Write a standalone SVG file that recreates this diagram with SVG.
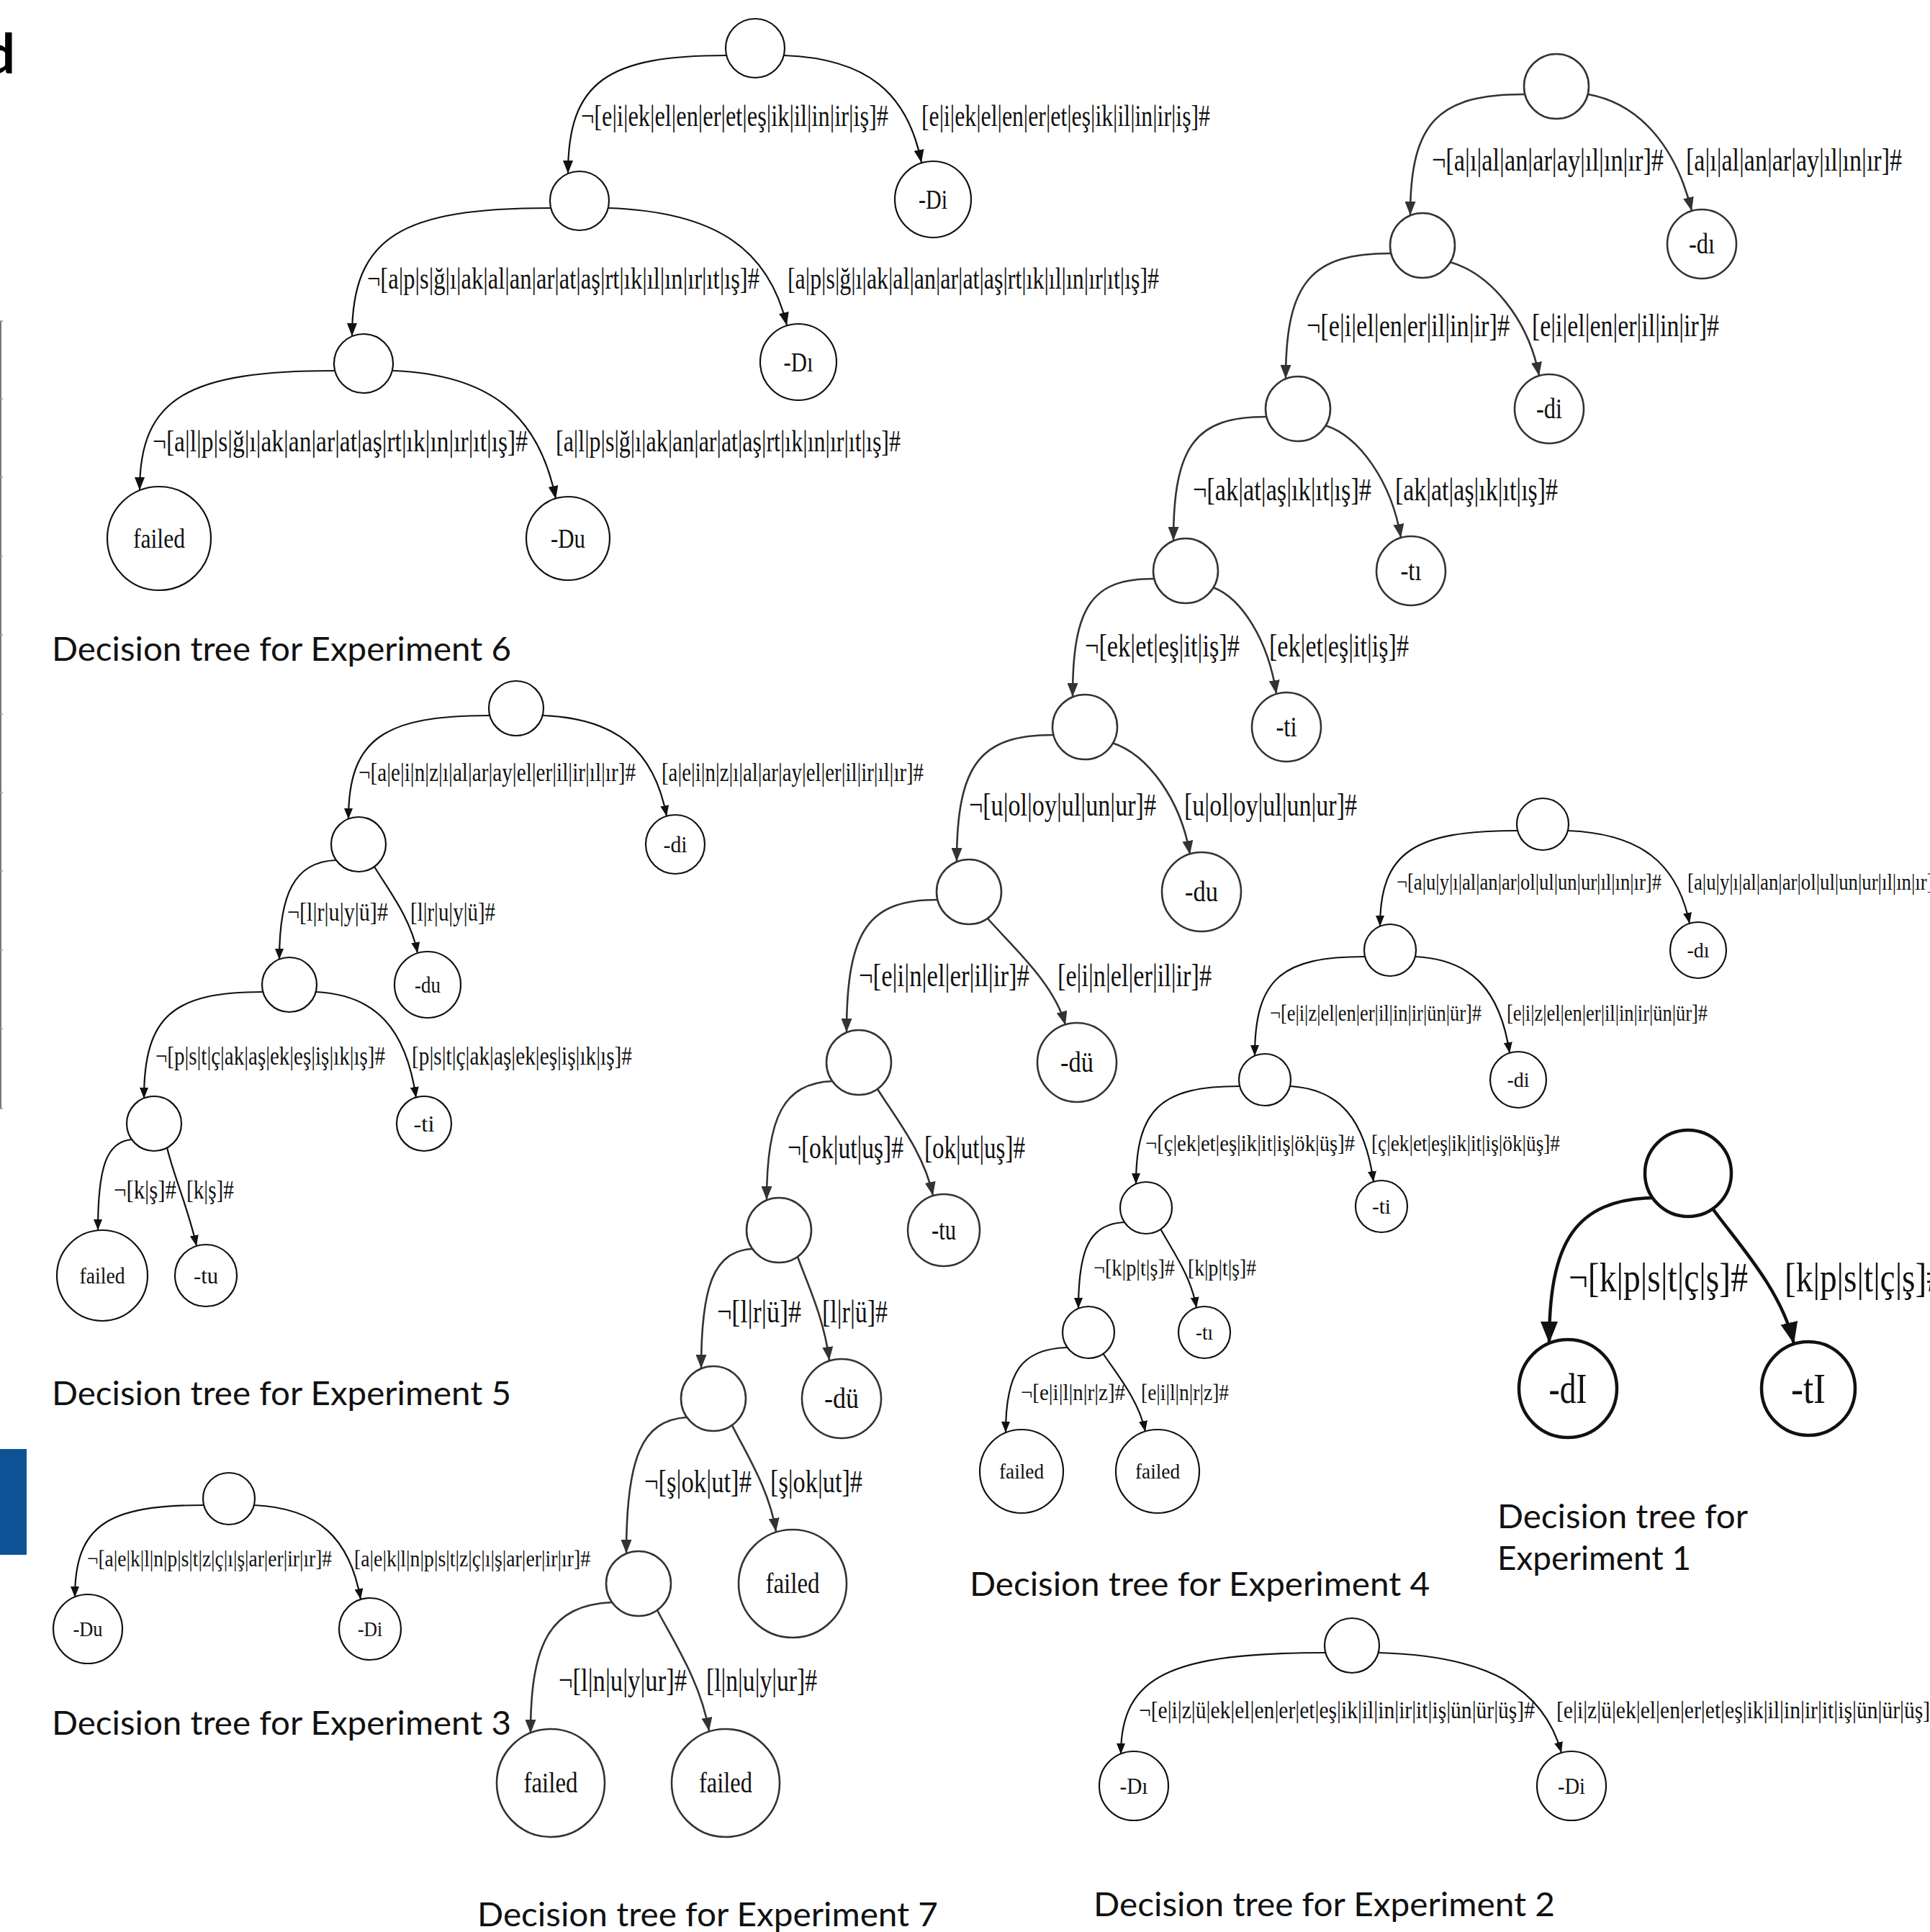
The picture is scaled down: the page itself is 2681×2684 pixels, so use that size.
<svg xmlns="http://www.w3.org/2000/svg" width="2681" height="2684" viewBox="0 0 2681 2684">
<style>
.n{fill:#fff;stroke:#111;stroke-width:2.2}
.n7{fill:#fff;stroke:#333;stroke-width:2.6}
.n1{fill:#fff;stroke:#111;stroke-width:4.5}
.e{fill:none;stroke:#111;stroke-width:2.2}
.e7{fill:none;stroke:#333;stroke-width:2.6}
.e1{fill:none;stroke:#111;stroke-width:4.5}
.t{font-family:"Liberation Serif","Times New Roman",serif;fill:#111}
.c{font-family:Lato,"Open Sans",sans-serif;fill:#111;font-size:46px}
.f6{font-size:42px}.f5{font-size:36px}.f3{font-size:32px}.f7{font-size:44px}.f4{font-size:32px}.f2{font-size:34px}.f1{font-size:56px}
.m6{font-size:38px}.m5{font-size:32px}.m3{font-size:30px}.m7{font-size:40px}.m4{font-size:30px}.m2{font-size:32px}.m1{font-size:60px}
.mid{text-anchor:middle}
</style>
<defs>
<marker id="ahM" viewBox="0 0 10 10" refX="10" refY="5" markerWidth="18" markerHeight="14" markerUnits="userSpaceOnUse" orient="auto" preserveAspectRatio="none"><path d="M0,0 L10,5 L0,10 z" fill="#111"/></marker>
<marker id="ahG" viewBox="0 0 10 10" refX="10" refY="5" markerWidth="19" markerHeight="15" markerUnits="userSpaceOnUse" orient="auto" preserveAspectRatio="none"><path d="M0,0 L10,5 L0,10 z" fill="#333"/></marker>
<marker id="ahS" viewBox="0 0 10 10" refX="10" refY="5" markerWidth="15" markerHeight="12" markerUnits="userSpaceOnUse" orient="auto" preserveAspectRatio="none"><path d="M0,0 L10,5 L0,10 z" fill="#111"/></marker>
<marker id="ahL" viewBox="0 0 10 10" refX="10" refY="5" markerWidth="30" markerHeight="24" markerUnits="userSpaceOnUse" orient="auto" preserveAspectRatio="none"><path d="M0,0 L10,5 L0,10 z" fill="#111"/></marker>
</defs>
<rect x="0" y="0" width="2681" height="2684" fill="#fff"/>

<g id="decor">
<text x="-22" y="102" font-family="Lato, sans-serif" font-weight="bold" font-size="76" fill="#000">d</text>
<line x1="1" y1="446" x2="1" y2="1540" stroke="#777" stroke-width="2"/>
<path d="M0,446h4M0,554h4M0,663h4M0,773h4M0,882h4M0,992h4M0,1101h4M0,1210h4M0,1320h4M0,1429h4M0,1540h4" stroke="#999" stroke-width="1.5"/>
<rect x="0" y="2013" width="37" height="147" fill="#0e5296"/>
</g>

<g id="connectors">
<!-- Exp 6 -->
<g marker-end="url(#ahM)">
<path class="e" d="M1009,77 C844,77 789,113 789,241"/>
<path class="e" d="M1089,77 C1204,81 1261,129 1280,226"/>
<path class="e" d="M765,289 C558,289 489,328 489,467"/>
<path class="e" d="M845,289 C994,294 1068,346 1093,452"/>
<path class="e" d="M465,515 C262,515 194,552 194,681"/>
<path class="e" d="M545,515 C681,520 749,577 772,693"/>
</g>
<!-- Exp 5 -->
<g marker-end="url(#ahS)">
<path class="e" d="M680,994 C533,994 484,1026 484,1138"/>
<path class="e" d="M754,994 C857,998 909,1043 926,1134"/>
<path class="e" d="M467,1195 C408,1197 388,1243 388,1333"/>
<path class="e" d="M520,1204 C538,1234 571,1276 580,1324"/>
<path class="e" d="M365,1378 C241,1378 200,1411 200,1526"/>
<path class="e" d="M439,1378 C522,1382 564,1429 578,1525"/>
<path class="e" d="M183,1583 C148,1586 136,1621 136,1709"/>
<path class="e" d="M232,1594 C240,1630 262,1680 273,1731"/>
</g>
<!-- Exp 3 -->
<g marker-end="url(#ahS)">
<path class="e" d="M283,2091 C149,2091 104,2119 104,2219"/>
<path class="e" d="M353,2091 C442,2095 486,2137 501,2222"/>
</g>
<!-- Exp 7 -->
<g marker-end="url(#ahG)">
<path class="e7" d="M2118,131 C1999,131 1959,168 1959,299"/>
<path class="e7" d="M2206,131 C2278,144 2328,204 2350,293"/>
<path class="e7" d="M1932,352 C1823,352 1786,390 1786,526"/>
<path class="e7" d="M2014,364 C2070,380 2123,443 2138,522"/>
<path class="e7" d="M1759,579 C1662,579 1630,617 1630,751"/>
<path class="e7" d="M1841,591 C1888,606 1933,669 1946,747"/>
<path class="e7" d="M1603,804 C1518,804 1490,840 1490,968"/>
<path class="e7" d="M1685,816 C1725,831 1762,890 1773,964"/>
<path class="e7" d="M1463,1021 C1363,1021 1329,1060 1329,1197"/>
<path class="e7" d="M1545,1032 C1594,1048 1640,1110 1653,1187"/>
<path class="e7" d="M1302,1250 C1208,1250 1176,1290 1176,1434"/>
<path class="e7" d="M1372,1276 C1404,1313 1464,1365 1480,1424"/>
<path class="e7" d="M1156,1502 C1088,1505 1065,1552 1065,1667"/>
<path class="e7" d="M1219,1513 C1242,1550 1284,1602 1296,1661"/>
<path class="e7" d="M1045,1735 C992,1738 974,1785 974,1901"/>
<path class="e7" d="M1108,1746 C1121,1782 1145,1832 1152,1890"/>
<path class="e7" d="M954,1969 C891,1973 870,2026 870,2158"/>
<path class="e7" d="M1017,1980 C1035,2017 1069,2069 1078,2128"/>
<path class="e7" d="M850,2226 C765,2230 737,2281 737,2408"/>
<path class="e7" d="M913,2237 C935,2279 974,2338 985,2405"/>
</g>
<!-- Exp 4 -->
<g marker-end="url(#ahS)">
<path class="e" d="M2108,1154 C1965,1154 1917,1183 1917,1287"/>
<path class="e" d="M2178,1154 C2279,1158 2330,1199 2347,1283"/>
<path class="e" d="M1896,1329 C1781,1329 1743,1359 1743,1467"/>
<path class="e" d="M1966,1329 C2045,1333 2084,1376 2097,1463"/>
<path class="e" d="M1722,1509 C1614,1509 1578,1539 1578,1645"/>
<path class="e" d="M1792,1509 C1862,1513 1896,1556 1908,1642"/>
<path class="e" d="M1562,1698 C1514,1700 1498,1734 1498,1818"/>
<path class="e" d="M1612,1707 C1627,1735 1655,1773 1662,1817"/>
<path class="e" d="M1482,1872 C1418,1874 1397,1907 1397,1990"/>
<path class="e" d="M1532,1880 C1550,1907 1582,1945 1591,1989"/>
</g>
<!-- Exp 1 -->
<g marker-end="url(#ahL)">
<path class="e1" d="M2296,1664 C2188,1667 2152,1725 2152,1866"/>
<path class="e1" d="M2379,1679 C2413,1726 2475,1792 2492,1867"/>
</g>
<!-- Exp 2 -->
<g marker-end="url(#ahS)">
<path class="e" d="M1841,2296 C1628,2296 1557,2327 1557,2437"/>
<path class="e" d="M1915,2296 C2067,2300 2144,2345 2169,2435"/>
</g>

<!-- edge labels -->
<g class="t">
<text class="f6" x="807" y="175" textLength="427" lengthAdjust="spacingAndGlyphs">¬[e|i|ek|el|en|er|et|eş|ik|il|in|ir|iş]#</text>
<text class="f6" x="1280" y="175" textLength="401" lengthAdjust="spacingAndGlyphs">[e|i|ek|el|en|er|et|eş|ik|il|in|ir|iş]#</text>
<text class="f6" x="510" y="401" textLength="545" lengthAdjust="spacingAndGlyphs">¬[a|p|s|ğ|ı|ak|al|an|ar|at|aş|rt|ık|ıl|ın|ır|ıt|ış]#</text>
<text class="f6" x="1094" y="401" textLength="516" lengthAdjust="spacingAndGlyphs">[a|p|s|ğ|ı|ak|al|an|ar|at|aş|rt|ık|ıl|ın|ır|ıt|ış]#</text>
<text class="f6" x="212" y="627" textLength="521" lengthAdjust="spacingAndGlyphs">¬[a|l|p|s|ğ|ı|ak|an|ar|at|aş|rt|ık|ın|ır|ıt|ış]#</text>
<text class="f6" x="772" y="627" textLength="479" lengthAdjust="spacingAndGlyphs">[a|l|p|s|ğ|ı|ak|an|ar|at|aş|rt|ık|ın|ır|ıt|ış]#</text>

<text class="f5" x="498" y="1085" textLength="385" lengthAdjust="spacingAndGlyphs">¬[a|e|i|n|z|ı|al|ar|ay|el|er|il|ir|ıl|ır]#</text>
<text class="f5" x="919" y="1085" textLength="364" lengthAdjust="spacingAndGlyphs">[a|e|i|n|z|ı|al|ar|ay|el|er|il|ir|ıl|ır]#</text>
<text class="f5" x="399" y="1279" textLength="140" lengthAdjust="spacingAndGlyphs">¬[l|r|u|y|ü]#</text>
<text class="f5" x="570" y="1279" textLength="118" lengthAdjust="spacingAndGlyphs">[l|r|u|y|ü]#</text>
<text class="f5" x="216" y="1479" textLength="319" lengthAdjust="spacingAndGlyphs">¬[p|s|t|ç|ak|aş|ek|eş|iş|ık|ış]#</text>
<text class="f5" x="572" y="1479" textLength="306" lengthAdjust="spacingAndGlyphs">[p|s|t|ç|ak|aş|ek|eş|iş|ık|ış]#</text>
<text class="f5" x="158" y="1665" textLength="87" lengthAdjust="spacingAndGlyphs">¬[k|ş]#</text>
<text class="f5" x="259" y="1665" textLength="66" lengthAdjust="spacingAndGlyphs">[k|ş]#</text>

<text class="f3" x="121" y="2176" textLength="340" lengthAdjust="spacingAndGlyphs">¬[a|e|k|l|n|p|s|t|z|ç|ı|ş|ar|er|ir|ır]#</text>
<text class="f3" x="492" y="2176" textLength="328" lengthAdjust="spacingAndGlyphs">[a|e|k|l|n|p|s|t|z|ç|ı|ş|ar|er|ir|ır]#</text>

<text class="f7" x="1989" y="237" textLength="322" lengthAdjust="spacingAndGlyphs">¬[a|ı|al|an|ar|ay|ıl|ın|ır]#</text>
<text class="f7" x="2342" y="237" textLength="300" lengthAdjust="spacingAndGlyphs">[a|ı|al|an|ar|ay|ıl|ın|ır]#</text>
<text class="f7" x="1815" y="467" textLength="282" lengthAdjust="spacingAndGlyphs">¬[e|i|el|en|er|il|in|ir]#</text>
<text class="f7" x="2128" y="467" textLength="260" lengthAdjust="spacingAndGlyphs">[e|i|el|en|er|il|in|ir]#</text>
<text class="f7" x="1657" y="695" textLength="248" lengthAdjust="spacingAndGlyphs">¬[ak|at|aş|ık|ıt|ış]#</text>
<text class="f7" x="1938" y="695" textLength="226" lengthAdjust="spacingAndGlyphs">[ak|at|aş|ık|ıt|ış]#</text>
<text class="f7" x="1507" y="912" textLength="215" lengthAdjust="spacingAndGlyphs">¬[ek|et|eş|it|iş]#</text>
<text class="f7" x="1763" y="912" textLength="194" lengthAdjust="spacingAndGlyphs">[ek|et|eş|it|iş]#</text>
<text class="f7" x="1346" y="1133" textLength="260" lengthAdjust="spacingAndGlyphs">¬[u|ol|oy|ul|un|ur]#</text>
<text class="f7" x="1645" y="1133" textLength="240" lengthAdjust="spacingAndGlyphs">[u|ol|oy|ul|un|ur]#</text>
<text class="f7" x="1193" y="1370" textLength="237" lengthAdjust="spacingAndGlyphs">¬[e|i|n|el|er|il|ir]#</text>
<text class="f7" x="1469" y="1370" textLength="214" lengthAdjust="spacingAndGlyphs">[e|i|n|el|er|il|ir]#</text>
<text class="f7" x="1094" y="1609" textLength="161" lengthAdjust="spacingAndGlyphs">¬[ok|ut|uş]#</text>
<text class="f7" x="1284" y="1609" textLength="140" lengthAdjust="spacingAndGlyphs">[ok|ut|uş]#</text>
<text class="f7" x="996" y="1837" textLength="117" lengthAdjust="spacingAndGlyphs">¬[l|r|ü]#</text>
<text class="f7" x="1142" y="1837" textLength="91" lengthAdjust="spacingAndGlyphs">[l|r|ü]#</text>
<text class="f7" x="895" y="2073" textLength="149" lengthAdjust="spacingAndGlyphs">¬[ş|ok|ut]#</text>
<text class="f7" x="1070" y="2073" textLength="128" lengthAdjust="spacingAndGlyphs">[ş|ok|ut]#</text>
<text class="f7" x="776" y="2349" textLength="178" lengthAdjust="spacingAndGlyphs">¬[l|n|u|y|ur]#</text>
<text class="f7" x="981" y="2349" textLength="154" lengthAdjust="spacingAndGlyphs">[l|n|u|y|ur]#</text>

<text class="f4" x="1940" y="1236" textLength="368" lengthAdjust="spacingAndGlyphs">¬[a|u|y|ı|al|an|ar|ol|ul|un|ur|ıl|ın|ır]#</text>
<text class="f4" x="2344" y="1236" textLength="355" lengthAdjust="spacingAndGlyphs">[a|u|y|ı|al|an|ar|ol|ul|un|ur|ıl|ın|ır]#</text>
<text class="f4" x="1764" y="1418" textLength="294" lengthAdjust="spacingAndGlyphs">¬[e|i|z|el|en|er|il|in|ir|ün|ür]#</text>
<text class="f4" x="2093" y="1418" textLength="279" lengthAdjust="spacingAndGlyphs">[e|i|z|el|en|er|il|in|ir|ün|ür]#</text>
<text class="f4" x="1591" y="1599" textLength="291" lengthAdjust="spacingAndGlyphs">¬[ç|ek|et|eş|ik|it|iş|ök|üş]#</text>
<text class="f4" x="1905" y="1599" textLength="262" lengthAdjust="spacingAndGlyphs">[ç|ek|et|eş|ik|it|iş|ök|üş]#</text>
<text class="f4" x="1519" y="1772" textLength="113" lengthAdjust="spacingAndGlyphs">¬[k|p|t|ş]#</text>
<text class="f4" x="1650" y="1772" textLength="95" lengthAdjust="spacingAndGlyphs">[k|p|t|ş]#</text>
<text class="f4" x="1418" y="1945" textLength="145" lengthAdjust="spacingAndGlyphs">¬[e|i|l|n|r|z]#</text>
<text class="f4" x="1585" y="1945" textLength="122" lengthAdjust="spacingAndGlyphs">[e|i|l|n|r|z]#</text>

<text class="f1" x="2179" y="1794" textLength="249" lengthAdjust="spacingAndGlyphs">¬[k|p|s|t|ç|ş]#</text>
<text class="f1" x="2479" y="1794" textLength="221" lengthAdjust="spacingAndGlyphs">[k|p|s|t|ç|ş]#</text>

<text class="f2" x="1582" y="2387" textLength="550" lengthAdjust="spacingAndGlyphs">¬[e|i|z|ü|ek|el|en|er|et|eş|ik|il|in|ir|it|iş|ün|ür|üş]#</text>
<text class="f2" x="2162" y="2387" textLength="534" lengthAdjust="spacingAndGlyphs">[e|i|z|ü|ek|el|en|er|et|eş|ik|il|in|ir|it|iş|ün|ür|üş]#</text>
</g>
</g>

<g id="exp6">
<g id="e6-root"><circle class="n" cx="1049" cy="67" r="41"/></g>
<g id="e6-n1"><circle class="n" cx="805" cy="279" r="41"/></g>
<g id="e6-Di"><circle class="n" cx="1296" cy="277" r="53"/><text class="t m6 mid" x="1296" y="290" textLength="40" lengthAdjust="spacingAndGlyphs">-Di</text></g>
<g id="e6-n2"><circle class="n" cx="505" cy="505" r="41"/></g>
<g id="e6-Dı"><circle class="n" cx="1109" cy="503" r="53"/><text class="t m6 mid" x="1109" y="516" textLength="41" lengthAdjust="spacingAndGlyphs">-Dı</text></g>
<g id="e6-failed"><circle class="n" cx="221" cy="748" r="72"/><text class="t m6 mid" x="221" y="761" textLength="72" lengthAdjust="spacingAndGlyphs">failed</text></g>
<g id="e6-Du"><circle class="n" cx="789" cy="748" r="58"/><text class="t m6 mid" x="789" y="761" textLength="48" lengthAdjust="spacingAndGlyphs">-Du</text></g>
<text class="c" x="72" y="918" textLength="638" lengthAdjust="spacingAndGlyphs">Decision tree for Experiment 6</text>
</g>

<g id="exp5">
<g id="e5-root"><circle class="n" cx="717" cy="984" r="38"/></g>
<g id="e5-n1"><circle class="n" cx="498" cy="1173" r="38"/></g>
<g id="e5-di"><circle class="n" cx="938" cy="1173" r="41"/><text class="t m5 mid" x="938" y="1184" textLength="33" lengthAdjust="spacingAndGlyphs">-di</text></g>
<g id="e5-n2"><circle class="n" cx="402" cy="1368" r="38"/></g>
<g id="e5-du"><circle class="n" cx="594" cy="1368" r="46"/><text class="t m5 mid" x="594" y="1379" textLength="36" lengthAdjust="spacingAndGlyphs">-du</text></g>
<g id="e5-n3"><circle class="n" cx="214" cy="1561" r="38"/></g>
<g id="e5-ti"><circle class="n" cx="589" cy="1561" r="38"/><text class="t m5 mid" x="589" y="1572" textLength="29" lengthAdjust="spacingAndGlyphs">-ti</text></g>
<g id="e5-failed"><circle class="n" cx="142" cy="1772" r="63"/><text class="t m5 mid" x="142" y="1783" textLength="63" lengthAdjust="spacingAndGlyphs">failed</text></g>
<g id="e5-tu"><circle class="n" cx="286" cy="1772" r="43"/><text class="t m5 mid" x="286" y="1783" textLength="34" lengthAdjust="spacingAndGlyphs">-tu</text></g>
<text class="c" x="72" y="1952" textLength="638" lengthAdjust="spacingAndGlyphs">Decision tree for Experiment 5</text>
</g>

<g id="exp3">
<g id="e3-root"><circle class="n" cx="318" cy="2082" r="36"/></g>
<g id="e3-Du"><circle class="n" cx="122" cy="2263" r="48"/><text class="t m3 mid" x="122" y="2273" textLength="41" lengthAdjust="spacingAndGlyphs">-Du</text></g>
<g id="e3-Di"><circle class="n" cx="514" cy="2263" r="43"/><text class="t m3 mid" x="514" y="2273" textLength="34" lengthAdjust="spacingAndGlyphs">-Di</text></g>
<text class="c" x="72" y="2410" textLength="638" lengthAdjust="spacingAndGlyphs">Decision tree for Experiment 3</text>
</g>

<g id="exp7">
<g id="e7-root"><circle class="n7" cx="2162" cy="120" r="45"/></g>
<g id="e7-dı"><circle class="n7" cx="2364" cy="339" r="48"/><text class="t m7 mid" x="2364" y="352" textLength="36" lengthAdjust="spacingAndGlyphs">-dı</text></g>
<g id="e7-n2"><circle class="n7" cx="1976" cy="341" r="45"/></g>
<g id="e7-di"><circle class="n7" cx="2152" cy="568" r="48"/><text class="t m7 mid" x="2152" y="581" textLength="36" lengthAdjust="spacingAndGlyphs">-di</text></g>
<g id="e7-n3"><circle class="n7" cx="1803" cy="568" r="45"/></g>
<g id="e7-tı"><circle class="n7" cx="1960" cy="793" r="48"/><text class="t m7 mid" x="1960" y="806" textLength="29" lengthAdjust="spacingAndGlyphs">-tı</text></g>
<g id="e7-n4"><circle class="n7" cx="1647" cy="793" r="45"/></g>
<g id="e7-ti"><circle class="n7" cx="1787" cy="1010" r="48"/><text class="t m7 mid" x="1787" y="1023" textLength="29" lengthAdjust="spacingAndGlyphs">-ti</text></g>
<g id="e7-n5"><circle class="n7" cx="1507" cy="1010" r="45"/></g>
<g id="e7-du"><circle class="n7" cx="1669" cy="1239" r="55"/><text class="t m7 mid" x="1669" y="1252" textLength="46" lengthAdjust="spacingAndGlyphs">-du</text></g>
<g id="e7-n6"><circle class="n7" cx="1346" cy="1239" r="45"/></g>
<g id="e7-dü1"><circle class="n7" cx="1496" cy="1476" r="55"/><text class="t m7 mid" x="1496" y="1489" textLength="46" lengthAdjust="spacingAndGlyphs">-dü</text></g>
<g id="e7-n7"><circle class="n7" cx="1193" cy="1476" r="45"/></g>
<g id="e7-tu"><circle class="n7" cx="1311" cy="1709" r="50"/><text class="t m7 mid" x="1311" y="1722" textLength="34" lengthAdjust="spacingAndGlyphs">-tu</text></g>
<g id="e7-n8"><circle class="n7" cx="1082" cy="1709" r="45"/></g>
<g id="e7-dü2"><circle class="n7" cx="1169" cy="1943" r="55"/><text class="t m7 mid" x="1169" y="1956" textLength="48" lengthAdjust="spacingAndGlyphs">-dü</text></g>
<g id="e7-n9"><circle class="n7" cx="991" cy="1943" r="45"/></g>
<g id="e7-failed1"><circle class="n7" cx="1101" cy="2200" r="75"/><text class="t m7 mid" x="1101" y="2213" textLength="75" lengthAdjust="spacingAndGlyphs">failed</text></g>
<g id="e7-n10"><circle class="n7" cx="887" cy="2200" r="45"/></g>
<g id="e7-failed2"><circle class="n7" cx="765" cy="2477" r="75"/><text class="t m7 mid" x="765" y="2490" textLength="75" lengthAdjust="spacingAndGlyphs">failed</text></g>
<g id="e7-failed3"><circle class="n7" cx="1008" cy="2477" r="75"/><text class="t m7 mid" x="1008" y="2490" textLength="74" lengthAdjust="spacingAndGlyphs">failed</text></g>
<text class="c" x="663" y="2676" textLength="640" lengthAdjust="spacingAndGlyphs">Decision tree for Experiment 7</text>
</g>

<g id="exp4">
<g id="e4-root"><circle class="n" cx="2143" cy="1145" r="36"/></g>
<g id="e4-dı"><circle class="n" cx="2359" cy="1320" r="39"/><text class="t m4 mid" x="2359" y="1330" textLength="31" lengthAdjust="spacingAndGlyphs">-dı</text></g>
<g id="e4-n2"><circle class="n" cx="1931" cy="1320" r="36"/></g>
<g id="e4-di"><circle class="n" cx="2109" cy="1500" r="39"/><text class="t m4 mid" x="2109" y="1510" textLength="31" lengthAdjust="spacingAndGlyphs">-di</text></g>
<g id="e4-n3"><circle class="n" cx="1757" cy="1500" r="36"/></g>
<g id="e4-ti"><circle class="n" cx="1919" cy="1676" r="36"/><text class="t m4 mid" x="1919" y="1686" textLength="26" lengthAdjust="spacingAndGlyphs">-ti</text></g>
<g id="e4-n4"><circle class="n" cx="1592" cy="1678" r="36"/></g>
<g id="e4-tı"><circle class="n" cx="1673" cy="1851" r="36"/><text class="t m4 mid" x="1673" y="1861" textLength="24" lengthAdjust="spacingAndGlyphs">-tı</text></g>
<g id="e4-n5"><circle class="n" cx="1512" cy="1851" r="36"/></g>
<g id="e4-failed1"><circle class="n" cx="1419" cy="2044" r="58"/><text class="t m4 mid" x="1419" y="2054" textLength="62" lengthAdjust="spacingAndGlyphs">failed</text></g>
<g id="e4-failed2"><circle class="n" cx="1608" cy="2044" r="58"/><text class="t m4 mid" x="1608" y="2054" textLength="62" lengthAdjust="spacingAndGlyphs">failed</text></g>
<text class="c" x="1347" y="2217" textLength="639" lengthAdjust="spacingAndGlyphs">Decision tree for Experiment 4</text>
</g>

<g id="exp1">
<g id="e1-root"><circle class="n1" cx="2345" cy="1630" r="60"/></g>
<g id="e1-dI"><circle class="n1" cx="2178" cy="1929" r="68"/><text class="t m1 mid" x="2178" y="1949" textLength="53" lengthAdjust="spacingAndGlyphs">-dI</text></g>
<g id="e1-tI"><circle class="n1" cx="2512" cy="1929" r="65"/><text class="t m1 mid" x="2512" y="1949" textLength="48" lengthAdjust="spacingAndGlyphs">-tI</text></g>
<text class="c" x="2080" y="2123" textLength="348" lengthAdjust="spacingAndGlyphs">Decision tree for</text>
<text class="c" x="2080" y="2181" textLength="269" lengthAdjust="spacingAndGlyphs">Experiment 1</text>
</g>

<g id="exp2">
<g id="e2-root"><circle class="n" cx="1878" cy="2286" r="38"/></g>
<g id="e2-Dı"><circle class="n" cx="1575" cy="2481" r="48"/><text class="t m2 mid" x="1575" y="2492" textLength="39" lengthAdjust="spacingAndGlyphs">-Dı</text></g>
<g id="e2-Di"><circle class="n" cx="2183" cy="2481" r="48"/><text class="t m2 mid" x="2183" y="2492" textLength="38" lengthAdjust="spacingAndGlyphs">-Di</text></g>
<text class="c" x="1519" y="2662" textLength="641" lengthAdjust="spacingAndGlyphs">Decision tree for Experiment 2</text>
</g>
</svg>
